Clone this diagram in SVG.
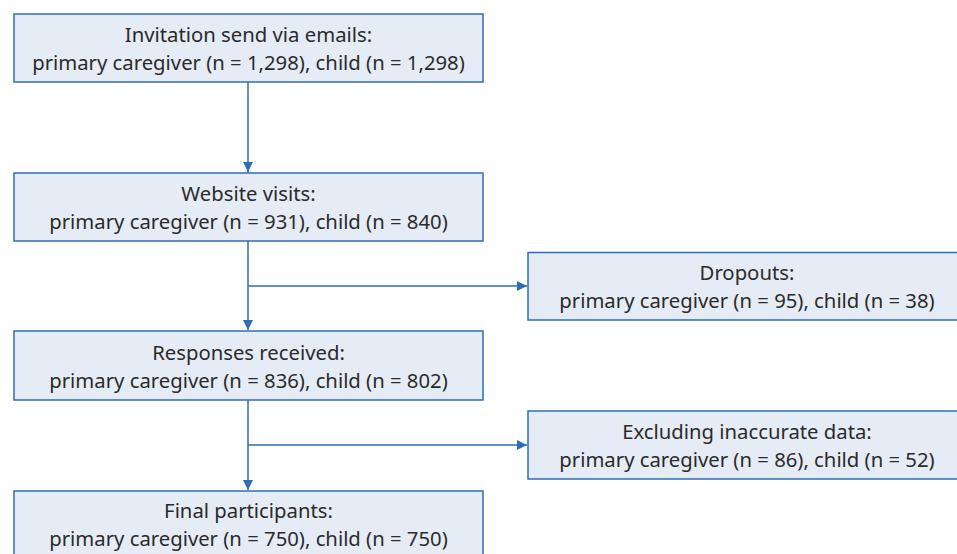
<svg xmlns="http://www.w3.org/2000/svg" width="957" height="554" viewBox="0 0 957 554">
<style>
.box{fill:#e6ecf5;stroke:#2f6db5;stroke-width:1.5}
.t{font-family:"Noto Sans","Open Sans",sans-serif;font-size:20.3px;fill:#2b2b2b;text-anchor:middle}
.c{fill:none;stroke:#2f6db5;stroke-width:1.5}
</style>
<defs>
<marker id="ah" viewBox="0 0 10 10" refX="10" refY="5" markerWidth="10" markerHeight="10" markerUnits="userSpaceOnUse" orient="auto">
<path d="M0,0 L10,5 L0,10 z" fill="#2f6db5"/>
</marker>
</defs>
<g id="connectors">
<path class="c" d="M248,82 V172" marker-end="url(#ah)"/>
<path class="c" d="M248,241 V330" marker-end="url(#ah)"/>
<path class="c" d="M248,286 H527" marker-end="url(#ah)"/>
<path class="c" d="M248,400 V490" marker-end="url(#ah)"/>
<path class="c" d="M248,445 H527" marker-end="url(#ah)"/>
</g>
<g id="n1"><rect class="box" x="14" y="14" width="469" height="68"/>
<text class="t" x="248.5" y="42">Invitation send via emails:</text>
<text class="t" x="248.5" y="70">primary caregiver (n = 1,298), child (n = 1,298)</text></g>
<g id="n2"><rect class="box" x="14" y="173" width="469" height="68"/>
<text class="t" x="248.5" y="201">Website visits:</text>
<text class="t" x="248.5" y="229">primary caregiver (n = 931), child (n = 840)</text></g>
<g id="n3"><rect class="box" x="528" y="252.5" width="440" height="67.5"/>
<text class="t" x="747" y="280">Dropouts:</text>
<text class="t" x="747" y="308">primary caregiver (n = 95), child (n = 38)</text></g>
<g id="n4"><rect class="box" x="14" y="331" width="469" height="69"/>
<text class="t" x="248.5" y="360">Responses received:</text>
<text class="t" x="248.5" y="388">primary caregiver (n = 836), child (n = 802)</text></g>
<g id="n5"><rect class="box" x="528" y="411" width="440" height="68"/>
<text class="t" x="747" y="439">Excluding inaccurate data:</text>
<text class="t" x="747" y="467">primary caregiver (n = 86), child (n = 52)</text></g>
<g id="n6"><rect class="box" x="14" y="491" width="469" height="80"/>
<text class="t" x="248.5" y="518">Final participants:</text>
<text class="t" x="248.5" y="546">primary caregiver (n = 750), child (n = 750)</text></g>
</svg>
